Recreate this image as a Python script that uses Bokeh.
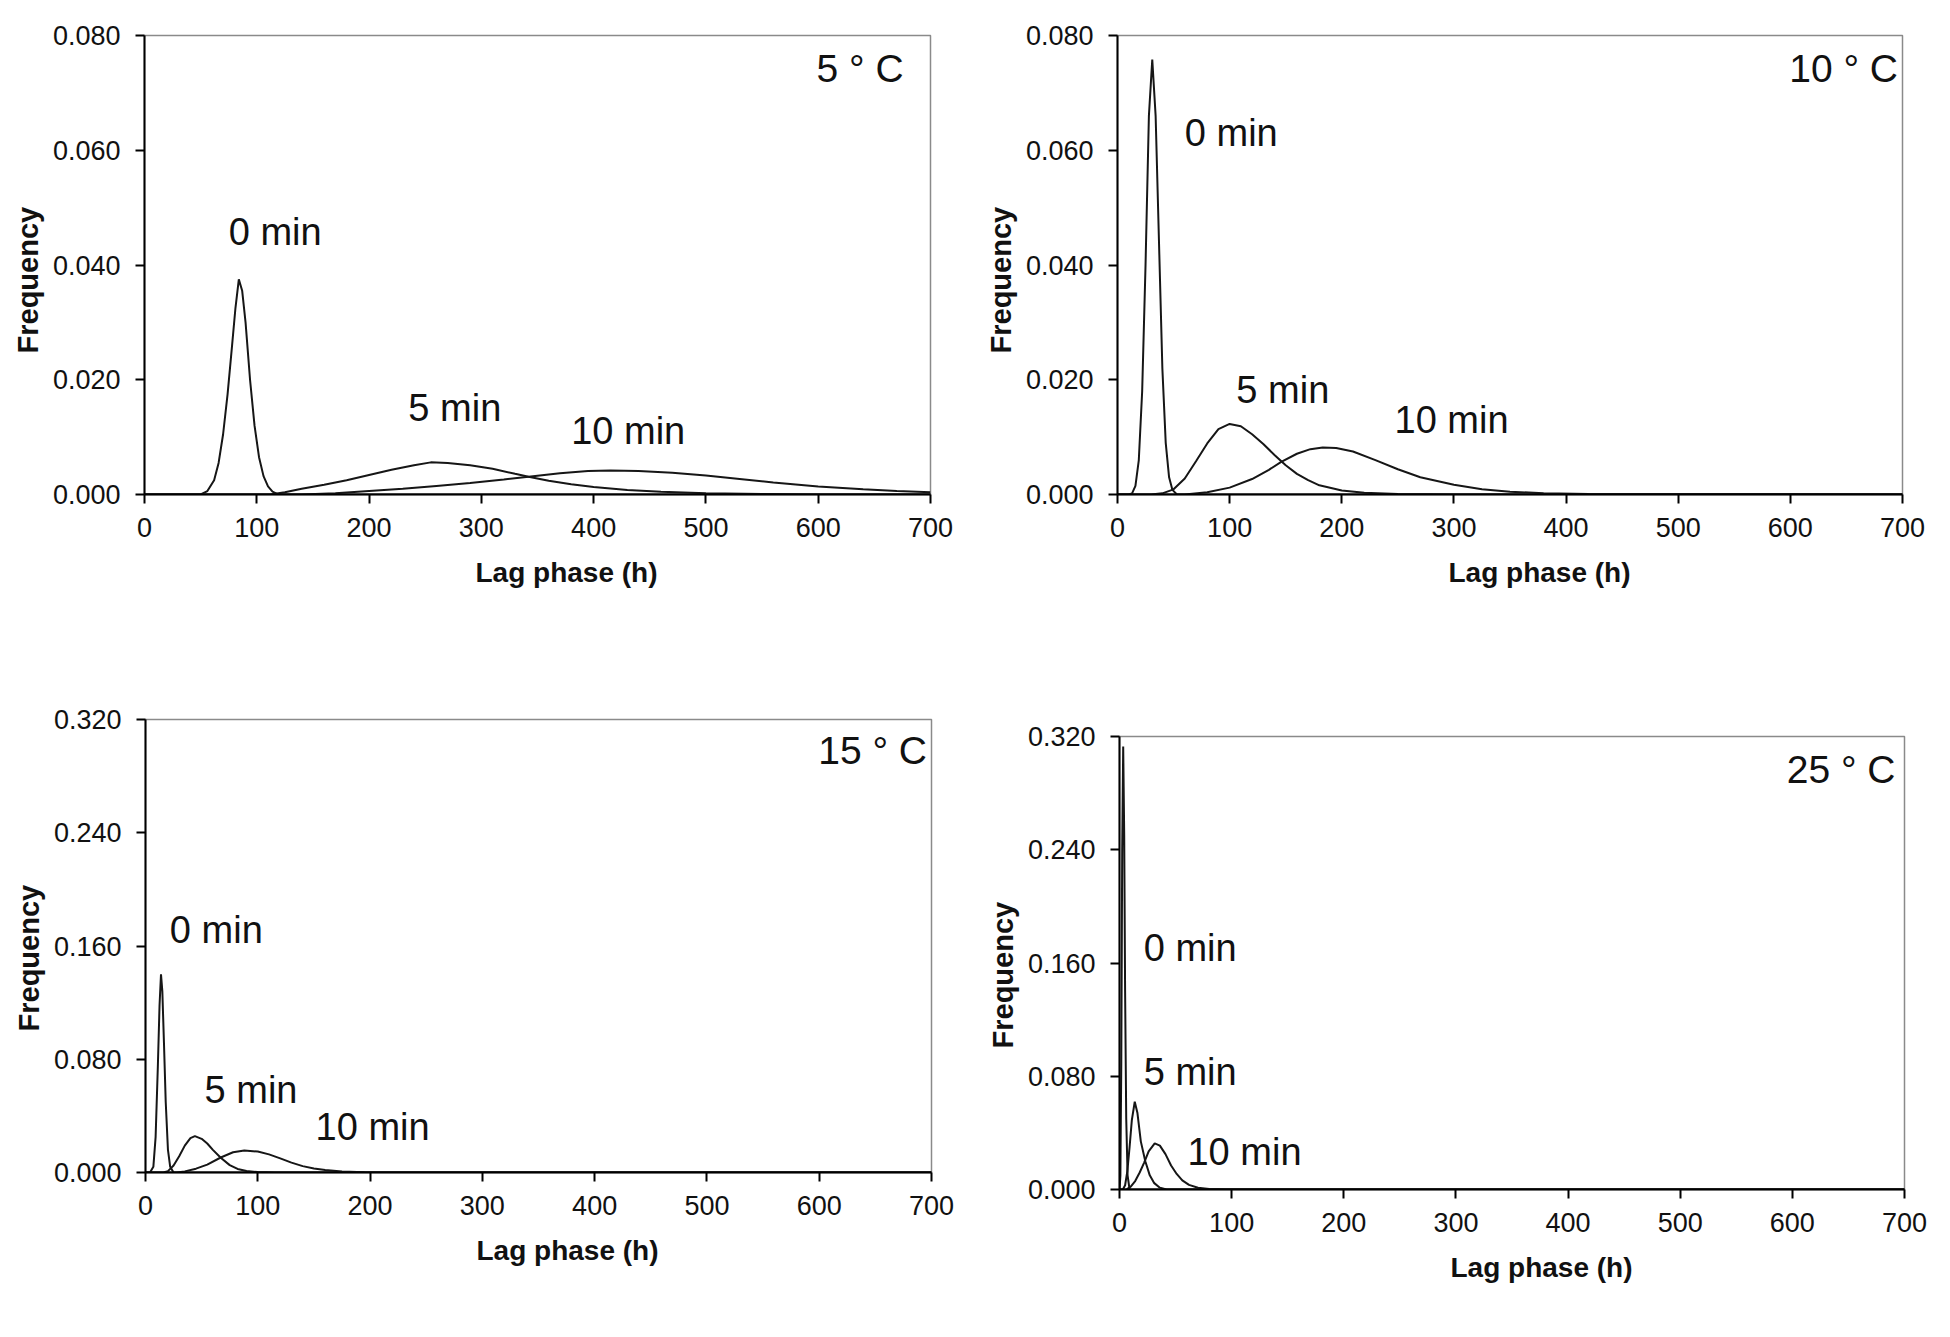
from bokeh.plotting import figure
from bokeh.layouts import row, column
from bokeh.models import FixedTicker, PrintfTickFormatter, Range1d, Label, Title, Spacer
from bokeh.embed import file_html
from bokeh.resources import INLINE

# ---------------- data ----------------
x_ticks = [0, 100, 200, 300, 400, 500, 600, 700]
y_ticks_low = [0.0, 0.02, 0.04, 0.06, 0.08]
y_ticks_high = [0.0, 0.08, 0.16, 0.24, 0.32]

series_names = ["0 min", "5 min", "10 min"]
temperatures = ["5 \u00b0 C", "10 \u00b0 C", "15 \u00b0 C", "25 \u00b0 C"]
x_title = "Lag phase (h)"
y_title = "Frequency"

# 5 C
t5_0_x = [0, 50, 56, 62, 66, 70, 74, 78, 81, 84, 87, 90, 94, 98, 102, 106, 110, 114, 119, 700]
t5_0_y = [0, 0, 0.0006, 0.0025, 0.0055, 0.0105, 0.0175, 0.0260, 0.0325, 0.0375, 0.0355, 0.0300, 0.0200, 0.0120, 0.0065, 0.0032, 0.0014, 0.0005, 0, 0]
t5_5_x = [0, 112, 125, 140, 160, 180, 200, 220, 240, 255, 270, 290, 310, 330, 342, 360, 380, 400, 430, 460, 500, 550, 600, 700]
t5_5_y = [0, 0, 0.0004, 0.0010, 0.0017, 0.0025, 0.0034, 0.0043, 0.0051, 0.0056, 0.0055, 0.0051, 0.0045, 0.0036, 0.0031, 0.0024, 0.0018, 0.0013, 0.0008, 0.0005, 0.0002, 0.0001, 0, 0]
t5_10_x = [0, 140, 170, 200, 230, 260, 290, 320, 342, 370, 395, 415, 440, 470, 500, 530, 560, 600, 640, 670, 700]
t5_10_y = [0, 0, 0.0002, 0.0006, 0.0010, 0.0015, 0.0020, 0.0026, 0.0031, 0.0037, 0.0041, 0.0042, 0.0041, 0.0038, 0.0033, 0.0027, 0.0021, 0.0014, 0.0009, 0.0006, 0.0004]

# 10 C
t10_0_x = [0, 10, 13, 16, 19, 22, 25, 28, 31, 34, 37, 40, 43, 46, 49, 53, 700]
t10_0_y = [0, 0, 0.0002, 0.0015, 0.0060, 0.0180, 0.0400, 0.0660, 0.0758, 0.0660, 0.0440, 0.0220, 0.0090, 0.0030, 0.0008, 0, 0]
t10_5_x = [0, 30, 40, 50, 60, 70, 80, 90, 100, 110, 120, 130, 140, 150, 160, 170, 180, 200, 220, 250, 300, 700]
t10_5_y = [0, 0, 0.0002, 0.0009, 0.0028, 0.0058, 0.0089, 0.0114, 0.0123, 0.0119, 0.0105, 0.0088, 0.0069, 0.0051, 0.0036, 0.0025, 0.0016, 0.0007, 0.0003, 0.0001, 0, 0]
t10_10_x = [0, 60, 80, 100, 120, 135, 146, 160, 172, 183, 195, 210, 230, 250, 270, 300, 325, 350, 380, 420, 700]
t10_10_y = [0, 0, 0.0004, 0.0012, 0.0027, 0.0043, 0.0057, 0.0071, 0.0079, 0.0082, 0.0081, 0.0075, 0.0060, 0.0044, 0.0030, 0.0017, 0.0009, 0.0005, 0.0002, 0.0001, 0]

# 15 C
t15_0_x = [0, 4, 7, 9, 11, 12.5, 13.8, 15, 16.5, 18, 20, 22, 25, 700]
t15_0_y = [0, 0, 0.004, 0.025, 0.075, 0.118, 0.140, 0.128, 0.090, 0.050, 0.016, 0.004, 0, 0]
t15_5_x = [0, 16, 20, 25, 30, 35, 40, 44, 50, 55, 60, 67, 75, 82, 90, 100, 115, 700]
t15_5_y = [0, 0, 0.001, 0.005, 0.0115, 0.019, 0.0243, 0.0257, 0.0238, 0.0205, 0.0160, 0.0104, 0.0052, 0.0025, 0.0011, 0.0003, 0, 0]
t15_10_x = [0, 28, 35, 45, 55, 67, 78, 88, 100, 110, 120, 130, 140, 150, 160, 175, 195, 230, 700]
t15_10_y = [0, 0, 0.0008, 0.0027, 0.0056, 0.0106, 0.0143, 0.0156, 0.0148, 0.0128, 0.0100, 0.0070, 0.0045, 0.0029, 0.0017, 0.0007, 0.0002, 0, 0]

# 25 C
t25_0_x = [0, 0.8, 1.6, 2.4, 3.3, 4.2, 5.0, 6.0, 7.2, 9, 700]
t25_0_y = [0, 0.010, 0.090, 0.240, 0.313, 0.250, 0.140, 0.050, 0.010, 0, 0]
t25_5_x = [0, 3, 5, 7, 9, 11, 13.6, 16, 19, 23, 27, 31, 36, 42, 700]
t25_5_y = [0, 0, 0.003, 0.013, 0.030, 0.049, 0.062, 0.054, 0.034, 0.020, 0.010, 0.0045, 0.0013, 0, 0]
t25_10_x = [0, 6, 10, 14, 18, 22, 26, 31.4, 36, 41, 46, 51, 56, 62, 70, 80, 95, 700]
t25_10_y = [0, 0, 0.002, 0.006, 0.012, 0.019, 0.027, 0.0326, 0.031, 0.025, 0.017, 0.011, 0.0065, 0.0033, 0.0012, 0.0003, 0, 0]

# ---------------- layout / styling ----------------
FONT = "Liberation Sans"
INK = "#111111"

panels = [
    dict(curves=[(t5_0_x, t5_0_y), (t5_5_x, t5_5_y), (t5_10_x, t5_10_y)],
         ymax=0.08, yticks=y_ticks_low, temp=temperatures[0],
         temp_pos=(676, 0.0742),
         label_pos=[(75, 0.0457), (235, 0.0150), (380, 0.0111)],
         size=dict(width=960, height=642, min_border_left=144, min_border_right=30,
                   min_border_top=35, min_border_bottom=148)),
    dict(curves=[(t10_0_x, t10_0_y), (t10_5_x, t10_5_y), (t10_10_x, t10_10_y)],
         ymax=0.08, yticks=y_ticks_low, temp=temperatures[1],
         temp_pos=(696, 0.0742),
         label_pos=[(60, 0.0630), (106, 0.0182), (247, 0.0129)],
         size=dict(width=980, height=642, min_border_left=157, min_border_right=38,
                   min_border_top=35, min_border_bottom=148)),
    dict(curves=[(t15_0_x, t15_0_y), (t15_5_x, t15_5_y), (t15_10_x, t15_10_y)],
         ymax=0.32, yticks=y_ticks_high, temp=temperatures[2],
         temp_pos=(696, 0.2981),
         label_pos=[(21.7, 0.171), (52.6, 0.0586), (151.5, 0.032)],
         size=dict(width=960, height=664, min_border_left=145, min_border_right=29,
                   min_border_top=77, min_border_bottom=134)),
    dict(curves=[(t25_0_x, t25_0_y), (t25_5_x, t25_5_y), (t25_10_x, t25_10_y)],
         ymax=0.32, yticks=y_ticks_high, temp=temperatures[3],
         temp_pos=(692, 0.2966),
         label_pos=[(21.6, 0.1706), (21.6, 0.0828), (60.6, 0.0262)],
         size=dict(width=980, height=664, min_border_left=159, min_border_right=36,
                   min_border_top=77, min_border_bottom=134)),
]


def make_panel(spec):
    p = figure(x_range=Range1d(0, 700), y_range=Range1d(0, spec["ymax"]),
               output_backend="svg", toolbar_location=None, **spec["size"])
    p.background_fill_color = "white"
    p.border_fill_color = "white"
    p.outline_line_color = "#8a8a8a"
    p.outline_line_width = 1.5
    p.xgrid.visible = False
    p.ygrid.visible = False

    for ax in (p.xaxis[0], p.yaxis[0]):
        ax.axis_line_color = "black"
        ax.axis_line_width = 2
        ax.major_tick_line_color = "black"
        ax.major_tick_line_width = 2
        ax.major_tick_out = 9
        ax.major_tick_in = 0
        ax.minor_tick_out = 0
        ax.minor_tick_in = 0
        ax.major_label_text_font = FONT
        ax.major_label_text_font_size = "27px"
        ax.major_label_text_color = INK
    p.xaxis.ticker = FixedTicker(ticks=x_ticks)
    p.yaxis.ticker = FixedTicker(ticks=spec["yticks"])
    p.yaxis.formatter = PrintfTickFormatter(format="%.3f")
    p.xaxis.major_label_standoff = 14
    p.yaxis.major_label_standoff = 15

    for xs, ys in spec["curves"]:
        p.line(xs, ys, line_color="#161616", line_width=2)

    for name, (lx, ly) in zip(series_names, spec["label_pos"]):
        p.add_layout(Label(x=lx, y=ly, text=name, text_font=FONT, text_font_size="38px",
                           text_color=INK, text_baseline="alphabetic", text_align="left"))
    tx, ty = spec["temp_pos"]
    p.add_layout(Label(x=tx, y=ty, text=spec["temp"], text_font=FONT, text_font_size="39px",
                       text_color=INK, text_baseline="alphabetic", text_align="right"))

    p.add_layout(Title(text=x_title, align="left", offset=331, text_font=FONT,
                       text_font_size="28px", text_font_style="bold", text_color=INK,
                       standoff=30), "below")
    p.add_layout(Title(text=y_title, align="left", offset=141, text_font=FONT,
                       text_font_size="29px", text_font_style="bold", text_color=INK,
                       standoff=12), "left")
    return p


figs = [make_panel(s) for s in panels]
layout = column(
    row(figs[0], figs[1]),
    row(figs[2], column(Spacer(width=980, height=17), figs[3])),
)

open("out.html", "w").write(file_html(layout, INLINE))
